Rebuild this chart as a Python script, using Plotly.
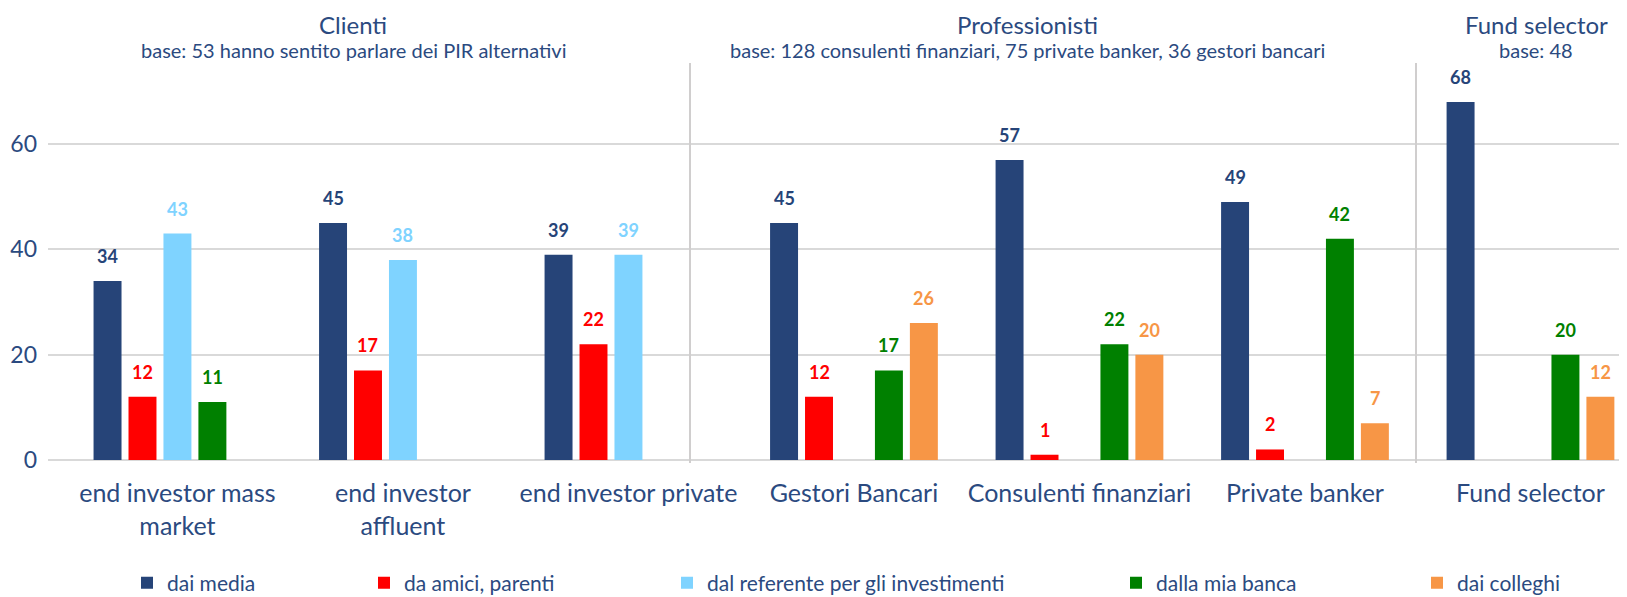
import plotly.graph_objects as go

categories = ["end investor mass<br>market", "end investor<br>affluent", "end investor private",
              "Gestori Bancari", "Consulenti finanziari", "Private banker", "Fund selector"]
series_names = ["dai media", "da amici, parenti", "dal referente per gli investimenti",
                "dalla mia banca", "dai colleghi"]
dai_media = [34, 45, 39, 45, 57, 49, 68]
da_amici = [12, 17, 22, 12, 1, 2, None]
dal_referente = [43, 38, 39, None, None, None, None]
dalla_banca = [11, None, None, 17, 22, 42, 20]
dai_colleghi = [None, None, None, 26, 20, 7, 12]
colors = ["#264478", "#FF0000", "#7FD3FF", "#008000", "#F79646"]
values = [dai_media, da_amici, dal_referente, dalla_banca, dai_colleghi]

section_titles = ["Clienti", "Professionisti", "Fund selector"]
section_subs = ["base: 53 hanno sentito parlare dei PIR alternativi",
                "base: 128 consulenti finanziari, 75 private banker, 36 gestori bancari",
                "base: 48"]

TXT = "#2B4A80"
FONT = "Lato"
BARGAP = 0.225
slot = (1 - BARGAP) / 5

# page body has an 8px margin: work in screen pixels, then offset
OFF = 8
SW, SH = 1627, 597
W, H = SW - OFF, SH - OFF
plot_left, plot_top, plot_bottom = 48, 63, 460
L = plot_left - OFF
T = plot_top - OFF
B = SH - plot_bottom
R = 0
pw = W - L - R
ph = H - T - B


def px_x(sx):
    return (sx - plot_left) / pw


def px_y(sy):
    return (plot_bottom - sy) / ph


fig = go.Figure()
legend_px = [143, 380, 683, 1132, 1433]
for k, (name, vals, col) in enumerate(zip(series_names, values, colors)):
    lg = "legend" if k == 0 else f"legend{k+1}"
    fig.add_trace(go.Bar(x=list(range(len(categories))), y=vals, name=name,
                         marker=dict(color=col, line=dict(width=0)), legend=lg))
    for i, v in enumerate(vals):
        if v is None:
            continue
        fig.add_annotation(x=i + (k - 2) * slot, y=v, text=f"<b>{v}</b>", showarrow=False,
                           yanchor="middle", yshift=25,
                           font=dict(family=FONT, size=18, color=col))

legends = {}
for k in range(5):
    key = "legend" if k == 0 else f"legend{k+1}"
    legends[key] = dict(x=px_x(legend_px[k] - 16), xanchor="left",
                        y=px_y(583), yanchor="middle",
                        orientation="h", itemwidth=30, bgcolor="rgba(0,0,0,0)",
                        tracegroupgap=0, borderwidth=0,
                        font=dict(family=FONT, size=21, color=TXT))

sec_px = [353, 1027, 1536]
for t, s, px in zip(section_titles, section_subs, sec_px):
    fig.add_annotation(xref="paper", yref="paper", x=px_x(px), y=px_y(25),
                       text=t, showarrow=False, xanchor="center", yanchor="middle",
                       borderpad=0, font=dict(family=FONT, size=24, color=TXT))
    fig.add_annotation(xref="paper", yref="paper", x=px_x(px), y=px_y(50),
                       text=s, showarrow=False, xanchor="center", yanchor="middle",
                       borderpad=0, font=dict(family=FONT, size=20, color=TXT))

for px in [690, 1416]:
    fig.add_shape(type="line", xref="paper", yref="paper", x0=px_x(px), x1=px_x(px),
                  y0=px_y(463), y1=1, line=dict(color="#D0CECE", width=2))

fig.update_layout(
    width=W, height=H, margin=dict(l=L, r=R, t=T, b=B, autoexpand=False),
    paper_bgcolor="white", plot_bgcolor="white",
    barmode="group", bargap=BARGAP, bargroupgap=0.2,
    showlegend=True,
    font=dict(family=FONT, color=TXT),
    xaxis=dict(tickmode="array", tickvals=list(range(len(categories))), ticktext=categories,
               range=[-0.574, 6.428], showgrid=False, showline=False, zeroline=False,
               automargin=False, ticks="", ticklabelstandoff=16,
               tickfont=dict(family=FONT, size=25, color=TXT)),
    yaxis=dict(range=[0, 75.4], tickvals=[0, 20, 40, 60], showgrid=True, gridcolor="#D9D9D9",
               gridwidth=2, zeroline=True, zerolinecolor="#D9D9D9", zerolinewidth=2,
               showline=False, ticks="", ticklabelstandoff=10, automargin=False,
               tickfont=dict(family=FONT, size=23, color=TXT)),
    **legends,
)

fig.write_html("out.html")
